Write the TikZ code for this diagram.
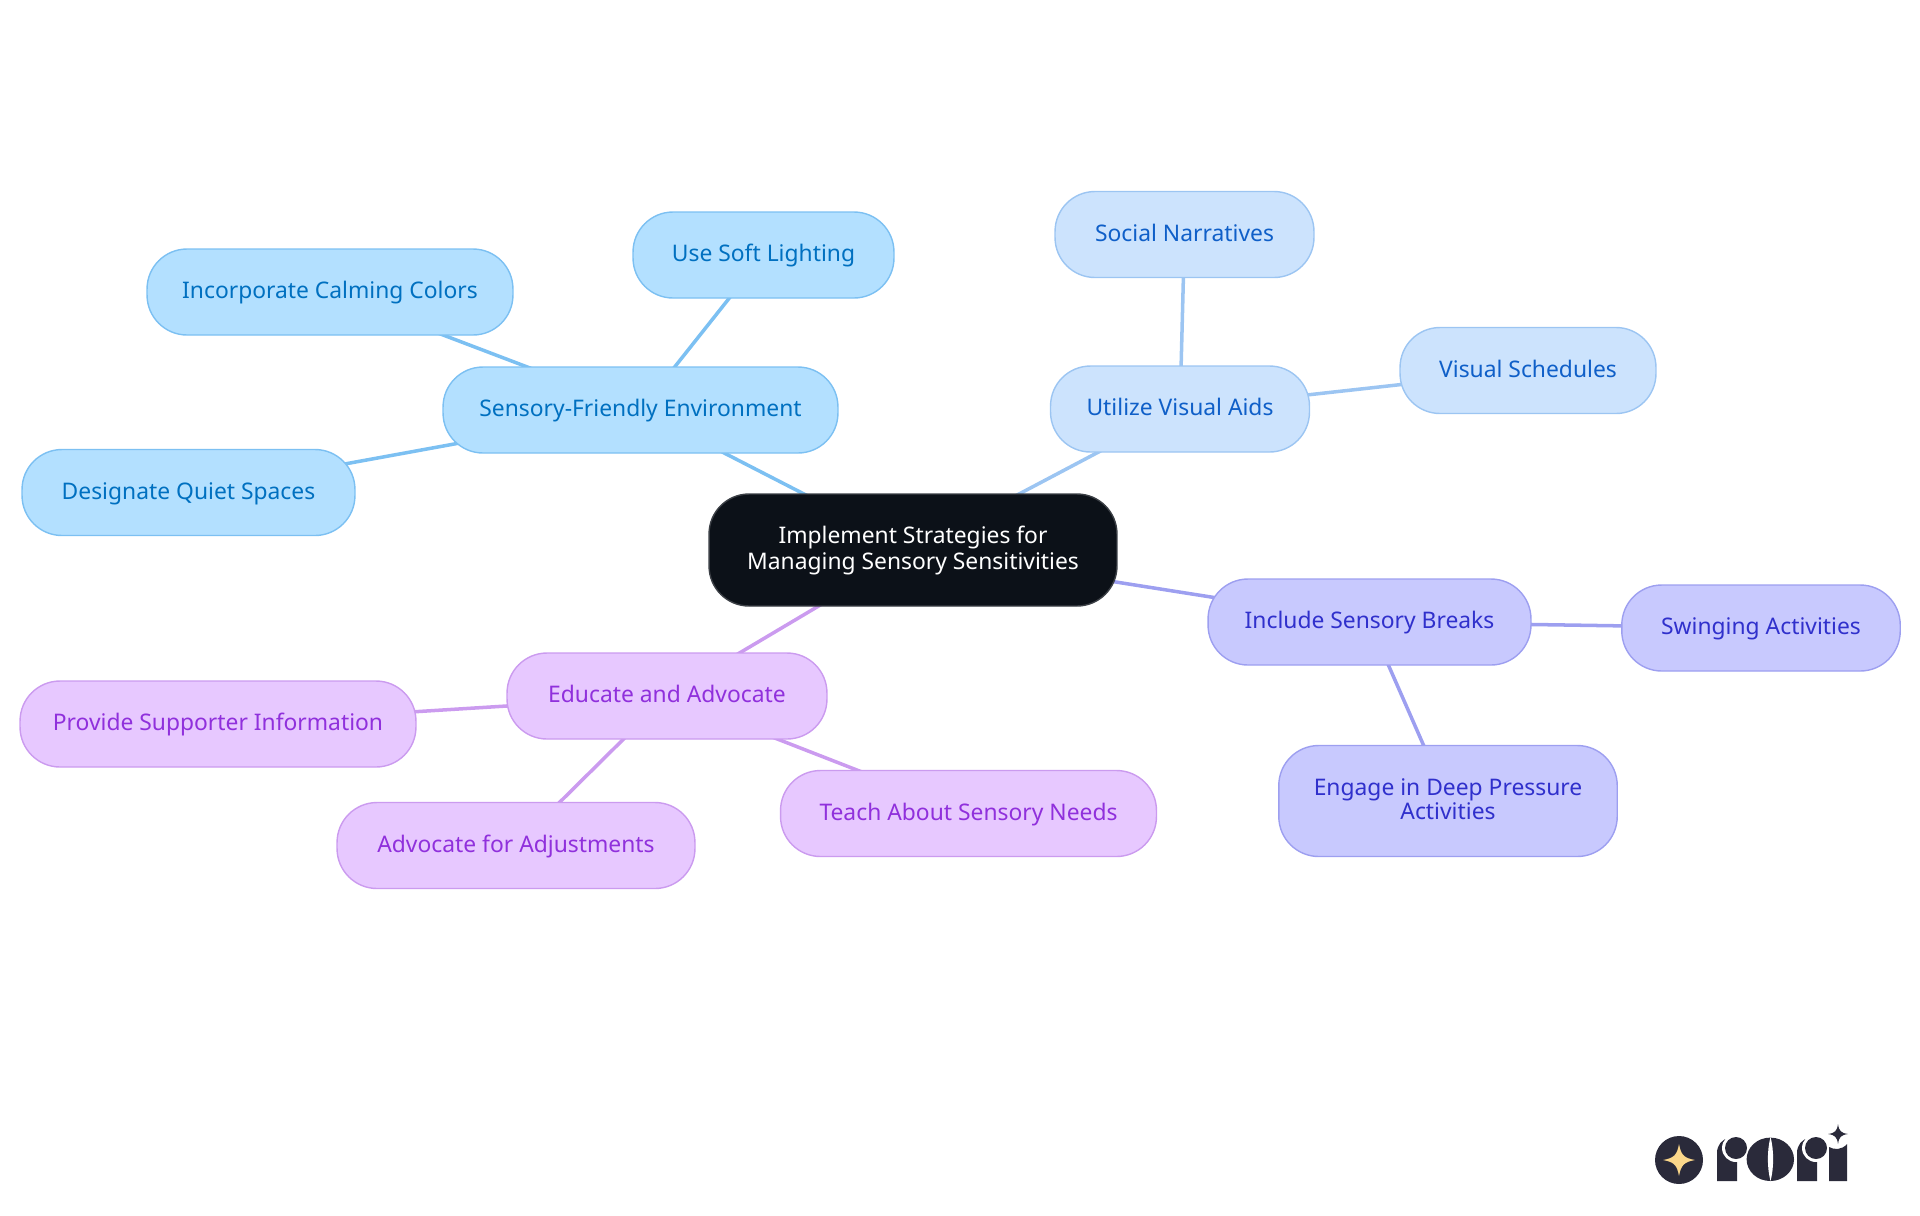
\documentclass[tikz,border=0pt]{standalone}
\usepackage{fontspec}
\setmainfont{Noto Sans}
\usetikzlibrary{backgrounds}

\definecolor{deepfill}{HTML}{0C1118}
\definecolor{deepline}{HTML}{3B3F45}
\definecolor{skyfill}{HTML}{B3E0FF}
\definecolor{skyline}{HTML}{7CC0F2}
\definecolor{skytext}{HTML}{0070C0}
\definecolor{palefill}{HTML}{CCE3FD}
\definecolor{paleline}{HTML}{9CC5F2}
\definecolor{paletext}{HTML}{0F5FC8}
\definecolor{indigofill}{HTML}{C8C9FE}
\definecolor{indigoline}{HTML}{9D9FF0}
\definecolor{indigotext}{HTML}{3030CC}
\definecolor{purplefill}{HTML}{E7C8FF}
\definecolor{purpleline}{HTML}{CB9BEF}
\definecolor{purpletext}{HTML}{9030DC}
\definecolor{logodark}{HTML}{2A2A3A}
\definecolor{logostar}{HTML}{FBD78A}

\begin{document}
\begin{tikzpicture}[x=0.02cm, y=-0.02cm,
node_style/.style={rectangle, rounded corners=0.8cm, inner sep=0pt, line width=0.8pt, minimum height=1.72cm, align=center, text height=0.4cm, text depth=0.14cm, font=\fontsize{13}{14.7}\selectfont},
root_style/.style={node_style, draw=deepline, fill=deepfill, text=white},
sky_style/.style={node_style, draw=skyline, fill=skyfill, text=skytext},
pale_style/.style={node_style, draw=paleline, fill=palefill, text=paletext},
indigo_style/.style={node_style, draw=indigoline, fill=indigofill, text=indigotext},
purple_style/.style={node_style, draw=purpleline, fill=purplefill, text=purpletext},
edge_style/.style={line width=2pt}]
\useasboundingbox (0,0) rectangle (1920,1215);

\node[root_style, minimum width=8.16cm, minimum height=2.24cm, text height=1cm, text depth=0.208cm] (root) at (913,550) {Implement Strategies for\\Managing Sensory Sensitivities};

\node[sky_style, minimum width=7.9cm] (environment) at (640.5,410) {Sensory-Friendly Environment};
\node[sky_style, minimum width=5.22cm] (lighting) at (763.5,255) {Use Soft Lighting};
\node[sky_style, minimum width=7.32cm] (colors) at (330,292) {Incorporate Calming Colors};
\node[sky_style, minimum width=6.66cm] (quiet) at (188.5,492.5) {Designate Quiet Spaces};

\node[pale_style, minimum width=5.18cm] (visual) at (1180,409) {Utilize Visual Aids};
\node[pale_style, minimum width=5.18cm] (social) at (1184.5,234.5) {Social Narratives};
\node[pale_style, minimum width=5.12cm] (schedules) at (1528,370.5) {Visual Schedules};

\node[indigo_style, minimum width=6.46cm] (breaks) at (1369.5,622) {Include Sensory Breaks};
\node[indigo_style, minimum width=5.57cm] (swinging) at (1761,628) {Swinging Activities};
\node[indigo_style, minimum width=6.77cm, minimum height=2.22cm, text height=1cm, text depth=0.25cm, font=\fontsize{13}{14}\selectfont] (pressure) at (1448,801) {Engage in Deep Pressure\\Activities};

\node[purple_style, minimum width=6.4cm] (educate) at (667,696) {Educate and Advocate};
\node[purple_style, minimum width=7.92cm] (supporter) at (218,724) {Provide Supporter Information};
\node[purple_style, minimum width=7.16cm] (adjust) at (516,845.5) {Advocate for Adjustments};
\node[purple_style, minimum width=7.52cm] (teach) at (968.5,813.5) {Teach About Sensory Needs};

\begin{scope}[on background layer]
\draw[edge_style, skyline] (root.center) -- (environment.center);
\draw[edge_style, skyline] (environment.center) -- (lighting.center);
\draw[edge_style, skyline] (environment.center) -- (colors.center);
\draw[edge_style, skyline] (environment.center) -- (quiet.center);
\draw[edge_style, paleline] (root.center) -- (visual.center);
\draw[edge_style, paleline] (visual.center) -- (social.center);
\draw[edge_style, paleline] (visual.center) -- (schedules.center);
\draw[edge_style, indigoline] (root.center) -- (breaks.center);
\draw[edge_style, indigoline] (breaks.center) -- (swinging.center);
\draw[edge_style, indigoline] (breaks.center) -- (pressure.center);
\draw[edge_style, purpleline] (root.center) -- (educate.center);
\draw[edge_style, purpleline] (educate.center) -- (supporter.center);
\draw[edge_style, purpleline] (educate.center) -- (adjust.center);
\draw[edge_style, purpleline] (educate.center) -- (teach.center);
\end{scope}

% logo
\fill[logodark] (1679,1160) circle[radius=24];
\fill[logostar, shift={(1679,1160)}] (0,-16) .. controls (2,-5) and (5,-2) .. (16,0) .. controls (5,2) and (2,5) .. (0,16) .. controls (-2,5) and (-5,2) .. (-16,0) .. controls (-5,-2) and (-2,-5) .. (0,-16) -- cycle;
\fill[logodark, shift={(1838,1134)}] (0,-10) .. controls (1,-3) and (3,-1) .. (10,0) .. controls (3,1) and (1,3) .. (0,10) .. controls (-1,3) and (-3,1) .. (-10,0) .. controls (-3,-1) and (-1,-3) .. (0,-10) -- cycle;
\foreach \x in {1717,1797} {
  \fill[logodark] (\x,1181) -- (\x,1153) .. controls (\x,1145) and (\x+5,1139) .. (\x+12,1138) -- (\x+20,1138) -- (\x+20,1181) -- cycle;
  \fill[white] (\x+19,1148) circle[radius=14];
  \fill[logodark] (\x+19,1148) circle[radius=11];
}
\fill[logodark] (1770.3,1159.3) ellipse[x radius=23.7, y radius=21.7];
\fill[white] (1770.5,1137) .. controls (1767,1150) and (1767,1168) .. (1770.5,1181) .. controls (1774,1168) and (1774,1150) .. (1770.5,1137) -- cycle;
\fill[logodark] (1829,1181) -- (1829,1147) .. controls (1834,1150) and (1842,1150) .. (1847,1144) -- (1847,1181) -- cycle;
\end{tikzpicture}
\end{document}
